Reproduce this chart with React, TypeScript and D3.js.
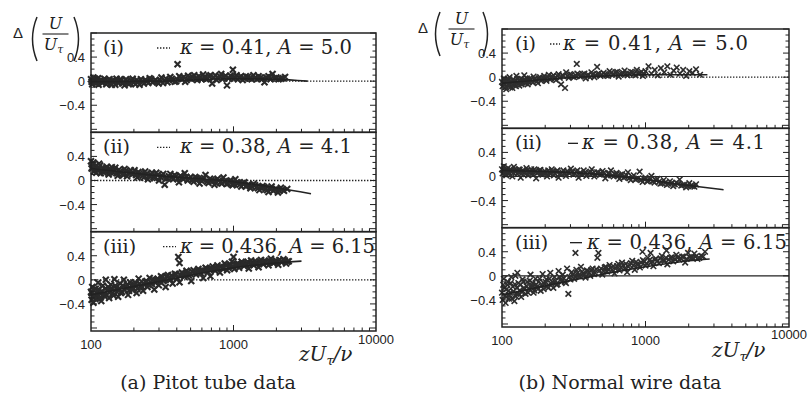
import React from "react"
import * as d3 from "d3"

// tick labels
const xTickValues = [100, 1000, 10000]
const xTickLabels = ["100", "1000", "10000"]
const yTickValues = [0.4, 0, -0.4]
const yTickLabels = ["0.4", "0", "\u22120.4"]

const romans = ["(i)", "(ii)", "(iii)"]
const kappas = ["0.41", "0.38", "0.436"]
const constA = ["5.0", "4.1", "6.15"]
const captions = ["(a) Pitot tube data", "(b) Normal wire data"]

// (a) Pitot tube data, delta U/U_tau vs zU_tau/nu
const pitotI = [
  [100, 0.03], [102, -0.05], [104, 0.06], [106, -0.02], [110, 0.02], [113, -0.06], [116, 0.01], [120, -0.03],
  [124, 0.04], [128, -0.05], [132, 0.0], [137, -0.04], [142, 0.02], [148, -0.06], [153, -0.01], [160, 0.03],
  [166, -0.04], [172, -0.07], [180, 0.0], [188, -0.03], [196, 0.04], [205, -0.05], [214, -0.01], [224, 0.03],
  [235, -0.04], [246, 0.0], [258, 0.05], [270, -0.02], [284, 0.02], [298, -0.04], [312, 0.06], [328, 0.01],
  [344, -0.02], [360, 0.07], [378, 0.02], [396, 0.0], [405, 0.28], [416, 0.08], [436, 0.03], [458, -0.01],
  [480, 0.09], [504, 0.04], [530, 0.1], [556, 0.02], [584, 0.06], [612, 0.11], [642, 0.03], [674, 0.08],
  [708, -0.04], [744, 0.1], [780, 0.05], [820, 0.12], [860, 0.06], [900, -0.07], [950, 0.09], [990, 0.19],
  [1000, 0.04], [1050, 0.1], [1100, 0.06], [1160, 0.02], [1220, 0.08], [1300, 0.05], [1380, 0.1], [1460, 0.03],
  [1550, 0.06], [1650, -0.02], [1760, 0.08], [1880, 0.12], [2000, 0.06], [2150, 0.04], [2300, 0.07],
  [101, -0.01], [103, 0.0], [107, 0.04], [109, -0.04], [112, 0.05], [118, 0.02], [122, -0.01], [126, 0.01],
  [130, -0.02], [135, 0.03], [140, -0.06], [145, 0.0], [151, 0.04], [157, -0.03], [163, 0.01], [169, -0.02],
  [176, 0.03], [184, -0.05], [192, 0.01], [200, -0.02], [210, 0.02], [219, -0.06], [229, 0.0], [240, 0.02],
  [252, -0.03], [264, 0.03], [277, 0.0], [291, -0.01], [305, 0.02], [320, -0.03], [336, 0.04], [352, 0.02],
  [369, 0.04], [387, -0.01], [426, 0.05], [447, 0.07], [469, 0.02], [492, 0.05], [517, 0.07], [543, 0.04],
  [570, 0.08], [598, 0.03], [627, 0.07], [658, 0.05], [690, 0.1], [726, 0.06], [762, 0.02], [800, 0.08],
  [840, 0.04], [880, 0.09], [925, 0.05], [975, 0.07], [1025, 0.06], [1075, 0.03], [1130, 0.08], [1190, 0.05],
  [1260, 0.07], [1340, 0.03], [1420, 0.06], [1500, 0.08], [1600, 0.04], [1700, 0.06], [1820, 0.03], [1940, 0.05],
  [2070, 0.03], [2220, 0.05],
]
const pitotII = [
  [100, 0.32], [101, 0.2], [103, 0.26], [105, 0.15], [108, 0.24], [111, 0.18], [114, 0.28], [117, 0.12],
  [121, 0.2], [125, 0.16], [129, 0.23], [133, 0.1], [138, 0.18], [143, 0.13], [148, 0.21], [154, 0.08],
  [160, 0.15], [166, 0.11], [172, 0.19], [179, 0.07], [186, 0.14], [194, 0.1], [202, 0.17], [211, 0.05],
  [220, 0.12], [230, 0.08], [240, 0.15], [251, 0.02], [262, 0.1], [274, 0.06], [287, 0.13], [300, 0.0],
  [314, 0.08], [329, -0.07], [344, 0.04], [360, 0.11], [377, 0.02], [395, 0.07], [414, -0.03], [434, 0.05],
  [455, 0.12], [477, 0.0], [500, 0.06], [525, -0.02], [551, 0.04], [578, -0.05], [606, 0.02], [636, 0.09],
  [668, -0.04], [700, 0.01], [735, -0.07], [772, 0.03], [810, -0.03], [850, 0.05], [893, -0.06], [937, -0.01],
  [984, -0.08], [1030, 0.02], [1080, -0.04], [1135, -0.1], [1190, -0.03], [1250, -0.08], [1315, -0.13],
  [1380, -0.06], [1450, -0.11], [1520, -0.16], [1600, -0.09], [1680, -0.14], [1760, -0.19], [1850, -0.1],
  [1950, -0.15], [2050, -0.2], [2150, -0.12], [2260, -0.17], [2380, -0.14],
  [102, 0.22], [104, 0.3], [107, 0.19], [109, 0.13], [113, 0.21], [116, 0.25], [119, 0.16], [123, 0.13],
  [127, 0.2], [131, 0.17], [136, 0.14], [140, 0.22], [146, 0.16], [151, 0.12], [157, 0.18], [163, 0.14],
  [169, 0.09], [176, 0.16], [183, 0.12], [190, 0.17], [198, 0.12], [207, 0.09], [215, 0.14], [225, 0.1],
  [235, 0.05], [245, 0.11], [256, 0.08], [268, 0.13], [280, 0.04], [293, 0.09], [307, 0.06], [321, 0.11],
  [336, 0.03], [352, 0.07], [368, 0.05], [386, 0.09], [404, 0.03], [424, 0.08], [444, 0.02], [466, 0.06],
  [488, 0.03], [512, 0.01], [538, 0.06], [564, 0.02], [592, 0.0], [621, 0.04], [652, -0.02], [684, 0.03],
  [718, -0.01], [753, -0.04], [790, 0.0], [830, -0.05], [871, -0.02], [915, -0.05], [960, 0.0], [1005, -0.06],
  [1055, -0.03], [1105, -0.07], [1160, -0.05], [1220, -0.1], [1280, -0.07], [1345, -0.1], [1415, -0.08],
  [1485, -0.13], [1560, -0.12], [1640, -0.11], [1720, -0.16], [1810, -0.13], [1900, -0.17], [2000, -0.14],
  [2100, -0.17], [2200, -0.15],
]
const pitotIII = [
  [100, -0.2], [101, -0.33], [102, -0.12], [104, -0.38], [106, -0.25], [108, -0.15], [110, -0.3], [112, -0.05],
  [115, -0.22], [118, -0.35], [121, -0.1], [124, -0.27], [127, 0.0], [130, -0.18], [134, -0.3], [138, -0.08],
  [142, -0.22], [146, 0.01], [150, -0.14], [155, -0.28], [160, -0.06], [165, -0.2], [170, 0.0], [176, -0.12],
  [182, -0.25], [188, -0.04], [195, -0.17], [202, -0.08], [209, -0.22], [216, 0.02], [224, -0.1], [232, -0.18],
  [240, -0.03], [249, -0.12], [258, 0.03], [268, -0.07], [278, -0.16], [288, 0.0], [299, -0.09], [310, 0.06],
  [322, -0.02], [334, -0.12], [347, 0.08], [360, 0.0], [374, -0.06], [388, 0.1], [403, 0.03], [410, 0.38],
  [418, 0.28], [418, -0.04], [434, 0.12], [451, 0.05], [468, 0.15], [486, 0.07], [505, -0.02], [525, 0.16],
  [546, 0.09], [567, 0.18], [590, 0.11], [613, 0.03], [637, 0.2], [662, 0.13], [688, 0.06], [715, 0.22],
  [743, 0.15], [772, 0.24], [803, 0.12], [835, 0.19], [868, 0.27], [902, 0.16], [938, 0.23], [975, 0.3],
  [1000, 0.38], [1013, 0.18], [1053, 0.26], [1095, 0.2], [1140, 0.3], [1185, 0.23], [1232, 0.27], [1280, 0.19],
  [1330, 0.32], [1385, 0.24], [1440, 0.29], [1500, 0.21], [1560, 0.33], [1620, 0.26], [1690, 0.3], [1760, 0.24],
  [1830, 0.35], [1900, 0.28], [1980, 0.32], [2060, 0.25], [2150, 0.3], [2240, 0.34], [2340, 0.27], [2440, 0.31],
  [101, -0.22], [103, -0.28], [105, -0.17], [107, -0.32], [109, -0.22], [111, -0.27], [113, -0.16], [116, -0.3],
  [119, -0.19], [122, -0.24], [126, -0.15], [129, -0.25], [132, -0.12], [136, -0.2], [140, -0.15], [144, -0.26],
  [148, -0.1], [152, -0.2], [157, -0.15], [162, -0.22], [168, -0.1], [173, -0.17], [179, -0.08], [185, -0.18],
  [192, -0.1], [198, -0.14], [205, -0.05], [212, -0.15], [220, -0.06], [228, -0.12], [236, -0.08], [245, -0.02],
  [254, -0.08], [263, -0.04], [273, 0.01], [283, -0.05], [294, 0.02], [305, -0.03], [316, 0.04], [328, 0.0],
  [340, 0.06], [353, 0.02], [367, 0.07], [381, 0.04], [396, 0.09], [426, 0.07], [443, 0.1], [460, 0.08],
  [477, 0.12], [495, 0.1], [515, 0.13], [535, 0.12], [556, 0.15], [578, 0.14], [601, 0.16], [625, 0.15],
  [650, 0.18], [675, 0.17], [701, 0.19], [729, 0.18], [757, 0.21], [788, 0.19], [819, 0.22], [851, 0.21],
  [885, 0.24], [920, 0.2], [956, 0.25], [995, 0.22], [1033, 0.24], [1075, 0.27], [1117, 0.25], [1162, 0.27],
  [1208, 0.25], [1256, 0.3], [1305, 0.26], [1357, 0.28], [1412, 0.31], [1470, 0.27], [1530, 0.29], [1590, 0.28],
  [1655, 0.32], [1725, 0.28], [1795, 0.3], [1865, 0.31], [1940, 0.29], [2020, 0.3], [2100, 0.33], [2195, 0.3],
  [2290, 0.32], [2390, 0.3],
]

// (b) Normal wire data
const wireI = [
  [100, -0.08], [101, -0.15], [103, -0.02], [105, -0.12], [107, -0.2], [109, -0.06], [111, -0.14], [113, 0.0],
  [115, -0.1], [118, -0.18], [120, -0.04], [123, -0.11], [126, 0.02], [129, -0.08], [132, -0.14], [135, -0.03],
  [139, -0.09], [143, 0.03], [147, -0.06], [151, -0.12], [156, -0.02], [161, -0.07], [166, 0.01], [172, -0.05],
  [178, -0.1], [184, 0.0], [190, -0.04], [197, 0.02], [204, -0.06], [212, 0.04], [220, -0.02], [229, 0.03],
  [238, -0.05], [248, 0.05], [258, -0.12], [268, 0.02], [275, -0.18], [280, 0.08], [292, -0.01], [305, 0.04],
  [318, 0.0], [332, 0.22], [335, 0.06], [350, 0.01], [366, 0.05], [383, -0.02], [400, 0.04], [420, 0.08],
  [440, 0.0], [460, 0.17], [462, 0.05], [485, 0.02], [510, 0.07], [535, 0.03], [562, 0.1], [590, 0.04],
  [620, 0.08], [650, 0.01], [680, 0.06], [715, 0.11], [750, 0.03], [790, 0.09], [830, 0.05], [870, 0.12],
  [915, 0.07], [960, 0.02], [1000, 0.1], [1050, 0.18], [1100, 0.06], [1160, 0.12], [1220, 0.03], [1280, 0.15],
  [1350, 0.08], [1420, 0.18], [1490, 0.04], [1570, 0.11], [1650, 0.16], [1740, 0.06], [1830, 0.12], [1920, 0.02],
  [2020, 0.1], [2130, 0.07], [2250, 0.13], [2400, 0.04],
  [102, -0.1], [104, -0.05], [106, -0.16], [108, -0.09], [110, -0.03], [112, -0.11], [114, -0.17], [117, -0.07],
  [119, -0.13], [122, -0.06], [125, -0.15], [128, -0.03], [131, -0.1], [134, -0.07], [137, -0.12], [141, -0.05],
  [145, -0.1], [149, -0.02], [154, -0.08], [159, -0.04], [164, -0.09], [169, -0.03], [175, -0.07], [181, -0.02],
  [187, -0.06], [194, -0.01], [201, -0.03], [208, 0.0], [216, -0.04], [224, 0.01], [233, -0.02], [243, 0.02],
  [253, -0.01], [263, 0.03], [286, 0.02], [298, 0.05], [311, 0.01], [325, 0.03], [342, 0.04], [358, 0.02],
  [375, 0.06], [392, 0.03], [410, 0.0], [430, 0.05], [450, 0.03], [473, 0.06], [497, 0.04], [522, 0.05],
  [548, 0.02], [576, 0.07], [605, 0.05], [635, 0.09], [665, 0.04], [697, 0.07], [732, 0.05], [770, 0.06],
  [810, 0.08], [850, 0.03], [892, 0.06], [937, 0.09], [980, 0.05],
]
const wireII = [
  [100, 0.12], [101, 0.05], [103, 0.17], [105, 0.09], [107, 0.02], [110, 0.14], [112, 0.07], [115, 0.11],
  [118, 0.0], [121, 0.16], [124, 0.08], [128, 0.04], [131, 0.12], [135, -0.02], [139, 0.1], [143, 0.06],
  [148, 0.14], [152, 0.02], [157, 0.09], [162, 0.05], [168, 0.12], [173, -0.03], [179, 0.07], [185, 0.11],
  [192, 0.03], [199, 0.09], [206, 0.0], [214, 0.06], [222, 0.12], [230, 0.02], [239, 0.08], [248, -0.02],
  [258, 0.05], [268, 0.1], [279, 0.01], [290, 0.07], [302, 0.13], [315, 0.03], [328, 0.08], [342, -0.02],
  [356, 0.05], [371, 0.1], [387, 0.01], [404, 0.06], [422, 0.12], [440, 0.0], [460, 0.07], [480, 0.03],
  [502, 0.09], [525, -0.03], [549, 0.05], [574, 0.1], [600, 0.0], [628, 0.06], [657, -0.04], [688, 0.04],
  [720, -0.01], [754, 0.07], [790, -0.06], [828, 0.02], [868, -0.04], [910, 0.08], [955, -0.09], [1000, -0.02],
  [1050, -0.07], [1100, 0.01], [1155, -0.1], [1210, -0.04], [1270, -0.12], [1340, -0.06], [1410, -0.14],
  [1480, -0.08], [1560, -0.16], [1640, -0.1], [1730, -0.05], [1820, -0.14], [1920, -0.18], [2020, -0.11],
  [2130, -0.16], [2250, -0.13],
  [102, 0.1], [104, 0.13], [106, 0.06], [109, 0.1], [111, 0.04], [114, 0.12], [116, 0.08], [120, 0.06],
  [123, 0.12], [126, 0.1], [130, 0.07], [133, 0.11], [137, 0.05], [141, 0.09], [146, 0.04], [150, 0.1],
  [155, 0.07], [160, 0.12], [165, 0.03], [170, 0.08], [176, 0.06], [182, 0.1], [188, 0.04], [195, 0.07],
  [202, 0.05], [210, 0.1], [218, 0.04], [226, 0.08], [234, 0.05], [243, 0.1], [253, 0.04], [263, 0.07],
  [273, 0.04], [284, 0.09], [296, 0.05], [308, 0.08], [321, 0.05], [335, 0.1], [349, 0.06], [363, 0.03],
  [379, 0.07], [395, 0.04], [413, 0.08], [431, 0.05], [450, 0.03], [470, 0.07], [491, 0.04], [513, 0.06],
  [537, 0.02], [561, 0.05], [587, 0.02], [614, 0.04], [642, 0.01], [672, 0.03], [704, -0.02], [737, 0.02],
  [771, -0.03], [809, -0.01], [848, -0.05], [889, -0.03], [932, -0.06], [977, -0.04], [1025, -0.08], [1075, -0.05],
  [1128, -0.08], [1182, -0.06], [1240, -0.09], [1305, -0.11], [1375, -0.1], [1445, -0.12], [1520, -0.11],
  [1600, -0.13], [1685, -0.12], [1775, -0.15], [1870, -0.14], [1970, -0.16], [2075, -0.15], [2190, -0.17],
]
const wireIII = [
  [100, -0.28], [101, -0.4], [102, -0.15], [103, -0.05], [105, -0.33], [106, -0.45], [108, -0.22], [110, -0.1],
  [112, -0.38], [114, -0.28], [116, -0.02], [119, -0.18], [122, -0.42], [124, 0.0], [126, -0.3], [128, 0.05],
  [130, -0.12], [133, -0.24], [136, -0.35], [139, -0.06], [142, -0.2], [146, -0.3], [150, -0.1], [154, -0.22],
  [158, 0.02], [162, -0.16], [166, -0.28], [171, -0.05], [176, -0.18], [181, -0.1], [186, -0.25], [192, 0.03],
  [198, -0.14], [204, -0.06], [210, -0.2], [217, 0.05], [224, -0.1], [232, -0.02], [240, -0.15], [248, 0.08],
  [256, -0.06], [265, 0.02], [274, -0.1], [284, 0.12], [290, -0.3], [295, -0.02], [306, 0.06], [318, -0.05],
  [325, 0.38], [330, 0.1], [342, 0.0], [355, 0.15], [368, 0.04], [382, -0.03], [397, 0.08], [412, 0.0],
  [428, 0.12], [445, 0.05], [462, 0.3], [470, 0.38], [480, 0.09], [500, 0.02], [520, 0.14], [540, 0.07],
  [562, 0.18], [585, 0.1], [608, 0.04], [633, 0.16], [659, 0.09], [686, 0.22], [715, 0.12], [745, 0.06],
  [776, 0.18], [808, 0.25], [842, 0.1], [877, 0.2], [914, 0.14], [952, 0.4], [960, 0.26], [1000, 0.17],
  [1040, 0.3], [1085, 0.38], [1090, 0.22], [1135, 0.16], [1185, 0.28], [1240, 0.21], [1300, 0.33], [1360, 0.25],
  [1400, 0.42], [1420, 0.19], [1490, 0.3], [1560, 0.24], [1640, 0.35], [1720, 0.27], [1800, 0.32], [1890, 0.22],
  [1980, 0.38], [2080, 0.3], [2190, 0.37], [2300, 0.28], [2450, 0.33], [2600, 0.4],
  [104, -0.2], [107, -0.35], [109, -0.15], [111, -0.25], [113, -0.32], [115, -0.12], [117, -0.38], [120, -0.26],
  [123, -0.14], [125, -0.34], [127, -0.2], [131, -0.3], [134, -0.15], [138, -0.27], [141, -0.1], [144, -0.22],
  [148, -0.17], [152, -0.28], [156, -0.08], [160, -0.2], [164, -0.12], [168, -0.24], [173, -0.14], [178, -0.22],
  [183, -0.05], [189, -0.15], [195, -0.22], [201, -0.1], [207, -0.17], [214, -0.05], [221, -0.13], [228, -0.2],
  [236, -0.08], [244, -0.14], [252, -0.02], [260, -0.1], [270, -0.04], [279, -0.12], [300, -0.06], [312, 0.02],
  [324, -0.02], [336, 0.05], [349, -0.01], [362, 0.07], [375, 0.02], [390, 0.09], [404, 0.05], [420, 0.1],
  [437, 0.03], [454, 0.11], [490, 0.12], [510, 0.08], [530, 0.15], [551, 0.11], [573, 0.13], [596, 0.16],
  [620, 0.12], [646, 0.2], [672, 0.14], [700, 0.17], [730, 0.2], [760, 0.15], [792, 0.21], [825, 0.17],
  [860, 0.23], [895, 0.19], [935, 0.22], [980, 0.24], [1020, 0.2], [1065, 0.26], [1110, 0.24], [1160, 0.27],
  [1210, 0.25], [1270, 0.29], [1330, 0.26], [1390, 0.3], [1455, 0.27], [1525, 0.31], [1600, 0.28], [1680, 0.3],
  [1760, 0.29], [1845, 0.32], [1935, 0.28], [2030, 0.31], [2135, 0.3], [2240, 0.32], [2370, 0.3], [2520, 0.32],
]

// fitted difference curves
const pitotFitI = [[100, -0.01], [300, 0.0], [1000, 0.04], [2000, 0.03], [3300, 0.0]]
const pitotFitII = [[100, 0.2], [300, 0.08], [1000, -0.02], [2000, -0.12], [3500, -0.22]]
const pitotFitIII = [[100, -0.25], [300, -0.03], [1000, 0.2], [2000, 0.28], [3000, 0.31]]
const wireFitI = [[100, -0.1], [300, -0.01], [1000, 0.04], [2700, 0.04]]
const wireFitII = [[100, 0.1], [400, 0.05], [1000, -0.05], [2000, -0.15], [3500, -0.22]]
const wireFitIII = [[100, -0.32], [300, -0.08], [1000, 0.15], [2000, 0.25], [2800, 0.28]]

const INK = "#222"
const SERIF = "'DejaVu Serif', 'Liberation Serif', serif"
const SANS = "'Liberation Sans', Arial, sans-serif"

const panels = [
  {
    x0: 91, x1: 376, top: 33, bottom: 331,
    data: [pitotI, pitotII, pitotIII],
    fits: [pitotFitI, pitotFitII, pitotFitIII],
    zeroDotted: [true, true, true],
    mark: { r: 3, w: 2.1, c: "#2a2a2a" },
    romanX: 103,
    glyph: [[157, 170], [157, 170], [163, 176]],
    textX: [180, 180, 180], textW: [172, 172, 195],
    ylab: { delta: 18, lp: 33, rp: 78, y0: 0 },
    xlabX: 299, tenKY: 344, caption: 208,
  },
  {
    x0: 502, x1: 789, top: 29, bottom: 327,
    data: [wireI, wireII, wireIII],
    fits: [wireFitI, wireFitII, wireFitIII],
    zeroDotted: [true, false, false],
    mark: { r: 2.8, w: 1.6, c: "#2e2e2e" },
    romanX: 515,
    glyph: [[550, 560], [568, 578], [570, 582]],
    textX: [563, 582, 587], textW: [185, 183, 200],
    ylab: { delta: 423, lp: 436, rp: 487, y0: -5 },
    xlabX: 712, tenKY: 339, caption: 620,
  },
]

function Panel({ p }: { p: any }) {
  const x = d3.scaleLog().domain([100, 10000]).range([p.x0, p.x1])
  const h = (p.bottom - p.top) / 3
  const minorX = d3.range(2, 10).flatMap((k) => [k * 100, k * 1000])
  const minorY = d3.range(-8, 9).map((k) => k / 10)
  const yl = p.ylab
  const fx = (yl.lp + yl.rp) / 2
  const r = p.mark.r
  const cross = `M${-r},${-r}L${r},${r}M${-r},${r}L${r},${-r}`
  return (
    <g>
      {[0, 1, 2].map((i) => {
        const t = p.top + i * h
        const y = d3.scaleLinear().domain([-0.85, 0.8]).range([t + h, t])
        const line = d3
          .line<number[]>()
          .x((d) => x(d[0]))
          .y((d) => y(d[1]))
          .curve(d3.curveMonotoneX)
        const g = p.glyph[i]
        return (
          <g key={i}>
            <line
              x1={p.x0} x2={p.x1} y1={y(0)} y2={y(0)}
              stroke={INK} strokeWidth={p.zeroDotted[i] ? 1.3 : 1.2}
              strokeDasharray={p.zeroDotted[i] ? "1.4,1.6" : undefined}
            />
            {p.data[i].map((d: number[], j: number) => (
              <path key={j} d={cross} transform={`translate(${x(d[0])},${y(d[1])})`}
                stroke={p.mark.c} strokeWidth={p.mark.w} fill="none" />
            ))}
            <path d={line(p.fits[i]) || ""} fill="none" stroke={INK} strokeWidth={1.6} />
            {minorY.map((v) => {
              const major = Math.abs(v * 10) % 4 === 0
              const len = major ? 6 : 3.5
              return (
                <g key={v}>
                  <line x1={p.x0} x2={p.x0 + len} y1={y(v)} y2={y(v)} stroke={INK} strokeWidth={1} />
                  <line x1={p.x1} x2={p.x1 - len} y1={y(v)} y2={y(v)} stroke={INK} strokeWidth={1} />
                </g>
              )
            })}
            {minorX.concat([1000]).map((v) => (
              <line key={v} x1={x(v)} x2={x(v)} y1={t + h} y2={t + h - (v === 1000 ? 6 : 3.5)}
                stroke={INK} strokeWidth={1} />
            ))}
            {yTickValues.map((v, k) => (
              <text key={v} x={p.x0 - 6} y={y(v) + 5} textAnchor="end" fontFamily={SANS}
                fontSize={13} fill={INK}>{yTickLabels[k]}</text>
            ))}
            <text x={p.romanX} y={t + 21} fontFamily={SERIF} fontSize={19} fill={INK}>{romans[i]}</text>
            <line x1={g[0]} x2={g[1]} y1={t + 15} y2={t + 15} stroke={INK} strokeWidth={1.3}
              strokeDasharray={p.zeroDotted[i] ? "1.4,1.6" : undefined} />
            <text x={p.textX[i]} y={t + 21} fontFamily={SERIF} fontSize={19.5} fill={INK}
              textLength={p.textW[i]} lengthAdjust="spacing">
              <tspan fontStyle="italic">κ</tspan> = {kappas[i]}, <tspan fontStyle="italic">A</tspan> = {constA[i]}
            </text>
            <rect x={p.x0} y={t} width={p.x1 - p.x0} height={h} fill="none" stroke={INK} strokeWidth={1.5} />
          </g>
        )
      })}
      {xTickValues.map((v, k) => (
        <text key={v} x={x(v)} y={v === 10000 ? p.tenKY : p.bottom + 18} textAnchor="middle"
          fontFamily={SANS} fontSize={13} fill={INK}>{xTickLabels[k]}</text>
      ))}
      <text x={p.xlabX} y={p.bottom + 30} fontFamily={SERIF} fontSize={20} fontStyle="italic" fill={INK}>
        zU<tspan fontSize={13} dy={4}>τ</tspan><tspan dy={-4}>/ν</tspan>
      </text>
      <g transform={`translate(0,${yl.y0})`}>
        <text x={yl.delta} y={38} textAnchor="middle" fontFamily={SANS} fontSize={15} fill={INK}>Δ</text>
        <path d={`M${yl.lp + 4},17 Q${yl.lp - 5},39 ${yl.lp + 4},61`} fill="none" stroke={INK} strokeWidth={1.5} />
        <path d={`M${yl.rp - 4},17 Q${yl.rp + 5},39 ${yl.rp - 4},61`} fill="none" stroke={INK} strokeWidth={1.5} />
        <text x={fx} y={29} textAnchor="middle" fontFamily={SERIF} fontStyle="italic"
          fontSize={16} fill={INK}>U</text>
        <line x1={fx - 13} x2={fx + 13} y1={34} y2={34} stroke={INK} strokeWidth={1.1} />
        <text x={fx - 2} y={50} textAnchor="middle" fontFamily={SERIF} fontStyle="italic"
          fontSize={16} fill={INK}>U<tspan fontSize={11} dy={3}>τ</tspan></text>
      </g>
    </g>
  )
}

export default function App() {
  return (
    <svg width={811} height={403} style={{ position: "absolute", left: 0, top: 0, background: "#fff" }}>
      <rect width={811} height={403} fill="#fff" />
      {panels.map((p, i) => (
        <Panel key={i} p={p} />
      ))}
      {panels.map((p, i) => (
        <text key={"c" + i} x={p.caption} y={389} textAnchor="middle" fontFamily={SERIF} fontSize={19}
          fill={INK}>{captions[i]}</text>
      ))}
    </svg>
  )
}
